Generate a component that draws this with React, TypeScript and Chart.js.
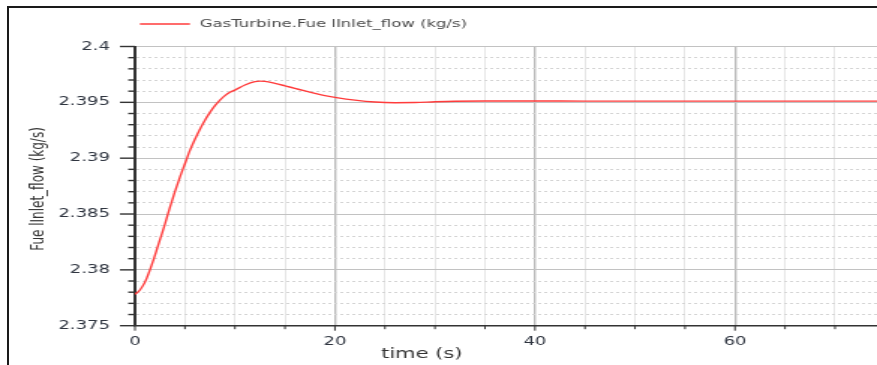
import React, { useEffect, useRef } from "react";
import { Chart, registerables } from "chart.js";

Chart.register(...registerables);

// ---- data ----
const TIME = [
  0, 0.5, 1, 1.5, 2, 2.5, 3, 3.5, 4, 4.5, 5, 5.5, 6, 6.5, 7, 7.5, 8, 8.5, 9, 9.5, 10,
  11, 12, 12.5, 13, 14, 15, 16, 17, 18, 19, 20, 22, 24, 26, 28, 30, 32, 35, 40, 45, 50,
  55, 60, 65, 70, 74.2,
];
const FLOW = [
  2.3778, 2.3782, 2.3789, 2.38, 2.3813, 2.3827, 2.3841, 2.3856, 2.387, 2.3883, 2.3895,
  2.3907, 2.3917, 2.3926, 2.3934, 2.3941, 2.3947, 2.3952, 2.3956, 2.3959, 2.3961,
  2.39655, 2.39685, 2.3969, 2.39688, 2.3967, 2.39648, 2.39625, 2.39602, 2.3958, 2.3956,
  2.39545, 2.3952, 2.39503, 2.39497, 2.39498, 2.39505, 2.3951, 2.39512, 2.39512, 2.39511,
  2.39511, 2.39511, 2.39511, 2.39511, 2.39511, 2.39511,
];
const SERIES_LABEL = "GasTurbine.Fue lInlet_flow (kg/s)";
const X_TITLE = "time (s)";
const Y_TITLE = "Fue lInlet_flow (kg/s)";
const X_TICK_LABELS = ["0", "20", "40", "60"];
const Y_TICK_LABELS = ["2.375", "2.38", "2.385", "2.39", "2.395", "2.4"];
const X_MIN = 0;
const X_MAX = 74.2;
const X_STEP = 5;
const Y_MIN = 2.375;
const Y_MAX = 2.4;
const Y_STEP = 0.001;

// ---- layout ----
const OUT_W = 877;
const OUT_H = 365;
const SX = 1.5;
const LW = Math.round(OUT_W / SX);
const FONT = "'DejaVu Sans', Verdana, sans-serif";

const xTickValues = () => {
  const out: number[] = [];
  for (let v = X_MIN; v <= X_MAX + 1e-9; v += X_STEP) out.push(v);
  return out;
};
const yTickValues = () => {
  const out: number[] = [];
  const n = Math.round((Y_MAX - Y_MIN) / Y_STEP);
  for (let i = 0; i <= n; i++) out.push(+(Y_MIN + i * Y_STEP).toFixed(4));
  return out;
};
const isMajorX = (v: number) => Math.abs(v / 20 - Math.round(v / 20)) < 1e-6;
const isMajorY = (v: number) => Math.round(v * 1000) % 5 === 0;

const decor = {
  id: "decor",
  afterDraw(chart: any) {
    const { ctx, chartArea, scales } = chart;
    const x = scales.x;
    const y = scales.y;
    ctx.save();
    // tick marks
    ctx.strokeStyle = "#333333";
    ctx.lineWidth = 1.4;
    for (const v of yTickValues()) {
      const py = y.getPixelForValue(v);
      const len = isMajorY(v) ? 10 : 4.5;
      ctx.beginPath();
      ctx.moveTo(chartArea.left - len, py);
      ctx.lineTo(chartArea.left, py);
      ctx.stroke();
    }
    ctx.lineWidth = 1;
    for (const v of xTickValues()) {
      const px = x.getPixelForValue(v);
      const len = isMajorX(v) ? 5 : 3.5;
      ctx.beginPath();
      ctx.moveTo(px, chartArea.bottom);
      ctx.lineTo(px, chartArea.bottom + len);
      ctx.stroke();
    }
    // legend
    ctx.strokeStyle = "#ff3b3b";
    ctx.lineWidth = 1.3;
    ctx.beginPath();
    ctx.moveTo(93.3, 24);
    ctx.lineTo(126.7, 24);
    ctx.stroke();
    ctx.fillStyle = "#4a4a4a";
    ctx.font = `11px ${FONT}`;
    ctx.textAlign = "left";
    ctx.textBaseline = "middle";
    ctx.fillText(SERIES_LABEL, 133.3, 24);
    // x title
    ctx.fillStyle = "#333333";
    ctx.font = `14px ${FONT}`;
    ctx.textAlign = "center";
    ctx.fillText(X_TITLE, 281.3, 354);
    // y title
    ctx.translate(26, 189);
    ctx.rotate(-Math.PI / 2);
    ctx.font = `12px ${FONT}`;
    ctx.fillText(Y_TITLE, 0, 0);
    ctx.restore();
  },
};

export default function App() {
  const ref = useRef<HTMLCanvasElement | null>(null);

  useEffect(() => {
    if (!ref.current) return;
    const chart = new Chart(ref.current, {
      type: "line",
      data: {
        datasets: [
          {
            label: SERIES_LABEL,
            data: TIME.map((t, i) => ({ x: t, y: FLOW[i] })),
            borderColor: "#ff3b3b",
            borderWidth: 1.4,
            pointRadius: 0,
            cubicInterpolationMode: "monotone",
            fill: false,
          },
        ],
      },
      options: {
        responsive: false,
        animation: false,
        devicePixelRatio: 1,
        layout: { padding: { top: 46.5, left: 0, right: 0, bottom: 0 } },
        plugins: { legend: { display: false }, tooltip: { enabled: false } },
        scales: {
          x: {
            type: "linear",
            min: X_MIN,
            max: X_MAX,
            afterBuildTicks: (s: any) => {
              s.ticks = xTickValues().map((v) => ({ value: v }));
            },
            afterFit: (s: any) => {
              s.height = OUT_H - 325.7;
            },
            ticks: {
              autoSkip: false,
              maxRotation: 0,
              padding: 8.7,
              color: "#2f3540",
              font: { family: FONT, size: 12 },
              callback: (v: any) => {
                const s = String(Math.round(Number(v)));
                return isMajorX(Number(v)) && X_TICK_LABELS.includes(s) ? s : "";
              },
            },
            grid: {
              drawTicks: false,
              color: (c: any) =>
                c.tick && isMajorX(c.tick.value) ? "#bcbcbc" : "#e6e6e6",
              lineWidth: (c: any) => (c.tick && isMajorX(c.tick.value) ? 1.4 : 1),
            },
            border: { color: "#333333", width: 1.5 },
          },
          y: {
            type: "linear",
            min: Y_MIN,
            max: Y_MAX,
            afterBuildTicks: (s: any) => {
              s.ticks = yTickValues().map((v) => ({ value: v }));
            },
            afterFit: (s: any) => {
              s.width = 135 / SX;
            },
            ticks: {
              autoSkip: false,
              padding: 16.7,
              color: "#2f3540",
              font: { family: FONT, size: 12 },
              callback: (v: any) => {
                const n = Number(v);
                if (!isMajorY(n)) return "";
                const s = String(+n.toFixed(3));
                return Y_TICK_LABELS.includes(s) ? s : "";
              },
            },
            grid: {
              drawTicks: false,
              color: (c: any) =>
                c.tick && isMajorY(c.tick.value) ? "#c2c2c2" : "#d4d4d4",
              lineWidth: 1,
            },
            border: {
              color: "#333333",
              width: 2,
              dash: (c: any) => (c.tick && !isMajorY(c.tick.value) ? [2, 2] : []),
            },
          },
        },
      },
      plugins: [decor],
    } as any);
    return () => chart.destroy();
  }, []);

  return (
    <div
      style={{
        position: "fixed",
        left: 0,
        top: 0,
        width: OUT_W,
        height: OUT_H,
        overflow: "hidden",
        background: "#ffffff",
      }}
    >
      <div
        style={{
          position: "absolute",
          left: 0,
          top: 0,
          width: LW,
          height: OUT_H,
          transform: `scaleX(${OUT_W / LW})`,
          transformOrigin: "0 0",
        }}
      >
        <canvas
          ref={ref}
          width={LW}
          height={OUT_H}
          style={{ display: "block", width: LW, height: OUT_H }}
        />
      </div>
      <div
        style={{
          position: "absolute",
          left: 7,
          top: 6,
          width: 920,
          height: 420,
          borderLeft: "2px solid #1a1a1a",
          borderTop: "2px solid #1a1a1a",
          pointerEvents: "none",
        }}
      />
    </div>
  );
}
